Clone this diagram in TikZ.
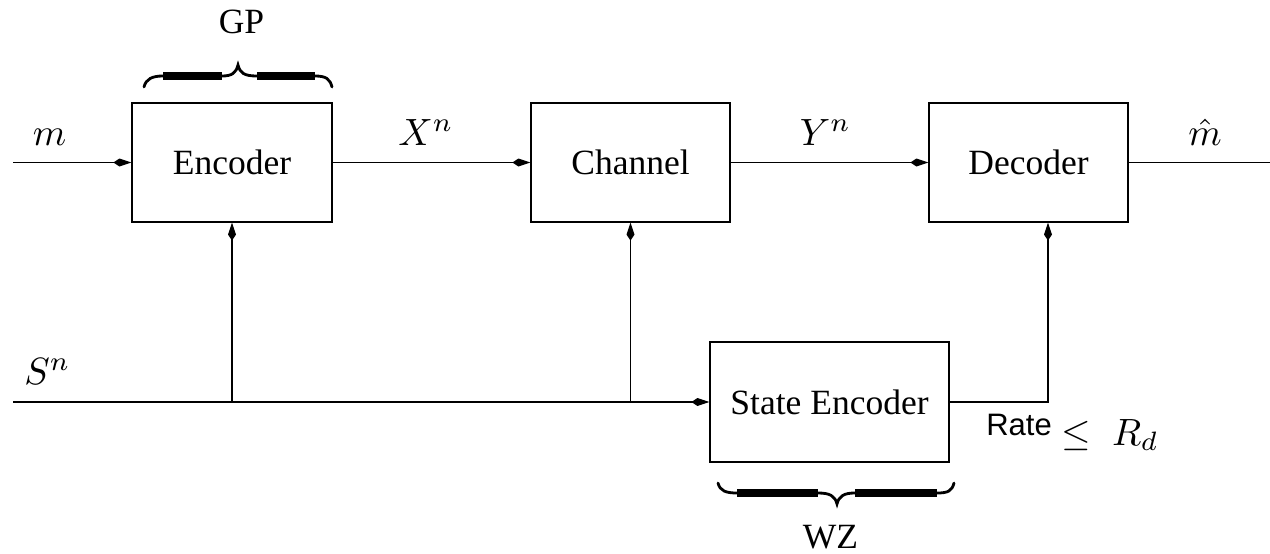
\documentclass[tikz,border=0pt]{standalone}
\usepackage{fontspec}
\setmainfont{Liberation Serif}
\newfontfamily\ratefont{Liberation Sans}
\usetikzlibrary{arrows.meta}
\tikzset{
  blk/.style={draw, line width=1.1pt, inner sep=0pt, font=\fontsize{35.5}{40}\selectfont},
  conn/.style={line width=1.2pt},
  arr/.style={conn, -{Kite[length=18pt,width=8pt,inset=6pt]}},
  lbl/.style={inner sep=0pt, anchor=base, scale=3.8},
  txt/.style={inner sep=0pt, anchor=base, font=\fontsize{35.5}{40}\selectfont},
  bthin/.style={line width=2.8pt, line cap=round},
  bthick/.style={line width=7.5pt}
}
\begin{document}
\begin{tikzpicture}[x=1pt,y=-1pt]
\useasboundingbox (0,0) rectangle (1270,554);
% blocks
\node[blk, minimum width=200pt, minimum height=119pt] (enc) at (232,162.5) {Encoder};
\node[blk, minimum width=199pt, minimum height=119pt] (chan) at (630.5,162.5) {Channel};
\node[blk, minimum width=199pt, minimum height=119pt] (dec) at (1028.5,162.5) {Decoder};
\node[blk, minimum width=239pt, minimum height=120pt] (senc) at (829.5,402) {State Encoder};
% free ends and junctions
\coordinate (min) at (13,162.5);
\coordinate (mout) at (1270,162.5);
\coordinate (sin) at (13,402);
\coordinate (j1) at (enc.south |- senc.west);
\coordinate (j2) at (chan.south |- senc.west);
\coordinate (decin) at (1048,0 |- dec.south);
\coordinate (corner) at (1048,0 |- senc.east);
% connectors
\draw[arr] (min) -- (enc.west);
\draw[arr] (enc.east) -- (chan.west);
\draw[arr] (chan.east) -- (dec.west);
\draw[conn] (dec.east) -- (mout);
\draw[arr] (sin) -- (senc.west);
\draw[arr] (j1) -- (enc.south);
\draw[arr] (j2) -- (chan.south);
\draw[arr] (senc.east) -- (corner) -- (decin);
% labels
\node[lbl] (lm) at (49.5,145) {$m$};
\node[lbl] (lx) at (426,145) {$X^n$};
\node[lbl] (ly) at (825.5,145) {$Y^n$};
\node[lbl] (lmh) at (1205,145) {$\hat{m}$};
\node[lbl] (ls) at (47.5,384) {$S^n$};
\node[inner sep=0pt, anchor=base, font=\ratefont\fontsize{31}{36}\selectfont] (lrate) at (1019,435) {Rate};
\node[lbl] (lrd) at (1110,445) {$\leq\;R_d$};
\node[txt] (lgp) at (241.5,33) {GP};
\node[txt] (lwz) at (830.5,548) {WZ};
% GP brace
\draw[bthin] (144,87) .. controls (146,79) and (152,76) .. (163,76);
\draw[bthick] (163,76) -- (222,76);
\draw[bthin] (222,76) .. controls (232,76) and (236,73) .. (238,65) .. controls (240,73) and (244,76) .. (257,76);
\draw[bthick] (257,76) -- (315,76);
\draw[bthin] (315,76) .. controls (326,76) and (330,79) .. (332,87);
% WZ brace
\draw[bthin] (718,483) .. controls (720,491) and (726,493) .. (737,493);
\draw[bthick] (737,493) -- (818,493);
\draw[bthin] (818,493) .. controls (830,493) and (835,496) .. (837,504) .. controls (839,496) and (844,493) .. (855,493);
\draw[bthick] (855,493) -- (937,493);
\draw[bthin] (937,493) .. controls (948,493) and (952,491) .. (954,483);
\end{tikzpicture}
\end{document}
